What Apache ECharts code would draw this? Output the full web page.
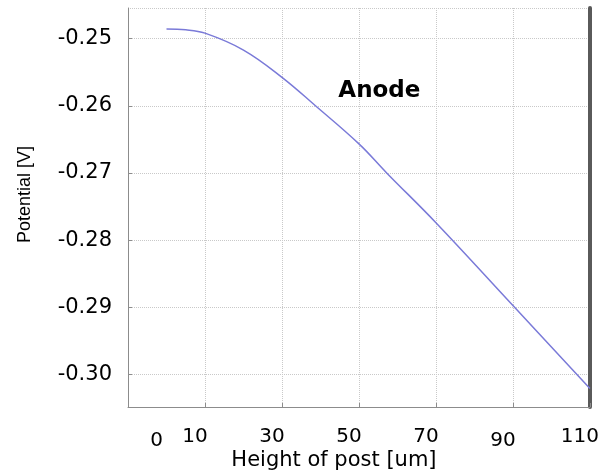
<!DOCTYPE html>
<html>
<head>
<meta charset="utf-8">
<script src="https://cdn.jsdelivr.net/npm/echarts@6/dist/echarts.min.js"></script>
<style>
  html, body { margin: 0; padding: 0; background: #fff; }
  #chart { width: 602px; height: 476px; }
</style>
</head>
<body>
<div id="chart"></div>
<script>
// Data
const heightUm = [0, 5, 10, 20, 30, 38.7, 50, 57.2, 70, 90, 110];
const potentialV = [-0.24858, -0.24869, -0.24918, -0.2517, -0.25576, -0.26, -0.26568, -0.27, -0.27742, -0.28975, -0.30210];
const xTickLabels = [0, 10, 30, 50, 70, 90, 110];
const xLowLabels = [0, 90];
const annotationText = 'Anode';
const annotationAt = [55.3, -0.25775];

const chart = echarts.init(document.getElementById('chart'));
const yMin = -0.30486, yMax = -0.24544;
const gridColor = '#c9c9c9';

chart.setOption({
  animation: false,
  backgroundColor: '#ffffff',
  grid: { left: 128, top: 8, width: 465, height: 400, containLabel: false },
  xAxis: [
    {
      type: 'value', min: -10, max: 110, interval: 20,
      name: 'Height of post [um]', nameLocation: 'middle', nameGap: 43,
      nameTextStyle: { fontFamily: 'DejaVu Sans', fontSize: 21, color: '#000', padding: [0, 50, 0, 0] },
      axisLine: { show: true, onZero: false, lineStyle: { color: '#8c8c8c', width: 1 } },
      axisTick: { show: true, inside: true, length: 4, lineStyle: { color: '#8c8c8c' } },
      axisLabel: { show: false },
      splitLine: { show: true, lineStyle: { color: gridColor, type: 'dotted', width: 1 } }
    },
    {
      type: 'value', min: -10, max: 110, interval: 10, position: 'bottom',
      axisLine: { show: false, onZero: false }, axisTick: { show: false }, splitLine: { show: false },
      axisLabel: {
        show: true, margin: 20, showMinLabel: false, showMaxLabel: true,
        formatter: function (v) {
          const r = Math.round(v);
          if (xTickLabels.indexOf(r) < 0) return '';
          return (xLowLabels.indexOf(r) >= 0 ? '{low|' : '{n|') + r + '}';
        },
        rich: {
          n: { fontFamily: 'DejaVu Sans', fontSize: 20, color: '#000', padding: [0, 20, 0, 0] },
          low: { fontFamily: 'DejaVu Sans', fontSize: 20, color: '#000', padding: [4, 20, 0, 0] }
        }
      }
    }
  ],
  yAxis: [
    {
      type: 'value', min: yMin, max: yMax, splitNumber: 6,
      name: 'Potential [V]', nameLocation: 'middle', nameGap: 94, nameRotate: 90,
      nameTextStyle: { fontFamily: 'Liberation Sans', fontSize: 18, color: '#000', padding: [0, 0, 0, 26] },
      axisLine: { show: true, onZero: false, lineStyle: { color: '#8c8c8c', width: 1 } },
      axisTick: { show: true, inside: true, length: 4, lineStyle: { color: '#8c8c8c' } },
      axisLabel: {
        show: true, margin: 16, showMinLabel: false, showMaxLabel: false,
        fontFamily: 'DejaVu Sans', fontSize: 21, color: '#000',
        formatter: function (v) { return v.toFixed(2); }
      },
      splitLine: { show: true, lineStyle: { color: gridColor, type: 'dotted', width: 1 } }
    },
    {
      type: 'value', min: yMin, max: yMax, position: 'right',
      axisLine: { show: true, onZero: false, lineStyle: { color: '#5a5a5a', width: 4 } },
      axisTick: { show: false }, axisLabel: { show: false }, splitLine: { show: false }
    }
  ],
  series: [
    {
      type: 'line', xAxisIndex: 0, yAxisIndex: 0,
      data: heightUm.map((x, i) => [x, potentialV[i]]),
      smooth: 0.4, showSymbol: false,
      lineStyle: { color: '#7a7ad8', width: 1.5 },
      markPoint: {
        symbol: 'circle', symbolSize: 1,
        itemStyle: { color: 'rgba(0,0,0,0)' },
        label: {
          show: true, position: 'inside', formatter: annotationText,
          fontFamily: 'DejaVu Sans', fontWeight: 'bold', fontSize: 23, color: '#000'
        },
        data: [{ coord: annotationAt }]
      }
    }
  ]
});
</script>
</body>
</html>
